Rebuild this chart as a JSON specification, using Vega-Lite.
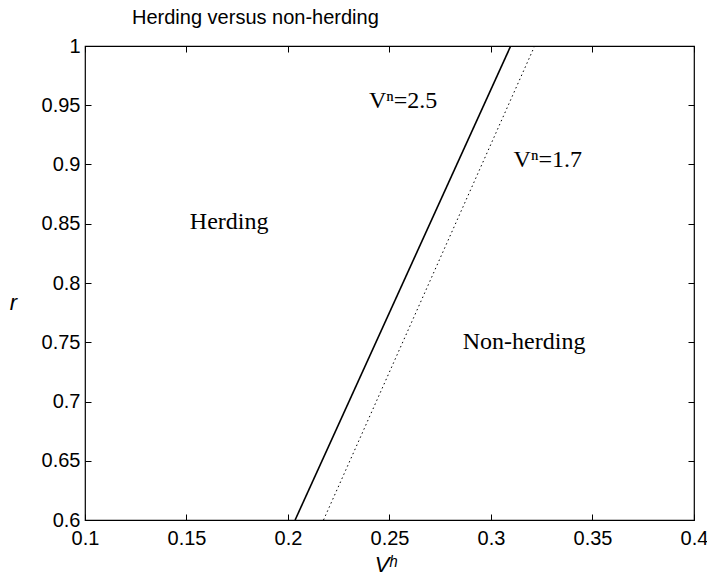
{
  "$schema": "https://vega.github.io/schema/vega-lite/v6.json",
  "width": 609,
  "height": 474,
  "autosize": "none",
  "padding": {"left": 85, "top": 46, "right": 13, "bottom": 59},
  "background": "white",
  "config": {
    "view": {"stroke": "black", "strokeWidth": 1.2},
    "font": "Liberation Sans",
    "axis": {"grid": false, "domain": false, "labelFont": "Liberation Sans", "labelFontSize": 20, "labelColor": "black", "tickColor": "black", "titleColor": "black", "format": "~g"}
  },
  "title": {
    "text": "Herding versus non-herding",
    "anchor": "start",
    "frame": "group",
    "dx": 47,
    "offset": 8,
    "font": "Liberation Sans",
    "fontSize": 20,
    "fontWeight": "normal",
    "color": "black"
  },
  "datasets": {
    "lines": [
      {"series": "2.5", "v": 0.2035, "r": 0.6},
      {"series": "2.5", "v": 0.3097, "r": 1.0},
      {"series": "1.7", "v": 0.2175, "r": 0.6},
      {"series": "1.7", "v": 0.3215, "r": 1.0}
    ],
    "labels": [
      {"text": "Vⁿ=2.5", "v": 0.2567, "r": 0.954},
      {"text": "Vⁿ=1.7", "v": 0.328, "r": 0.904},
      {"text": "Herding", "v": 0.171, "r": 0.8515},
      {"text": "Non-herding", "v": 0.3163, "r": 0.75}
    ]
  },
  "layer": [
    {
      "data": {"name": "lines"},
      "transform": [{"filter": "datum.series == '2.5'"}],
      "mark": {"type": "line", "color": "black", "strokeWidth": 1.6, "clip": true},
      "encoding": {
        "x": {"field": "v", "type": "quantitative", "scale": {"domain": [0.1, 0.4], "nice": false, "zero": false},
          "axis": {"values": [0.1, 0.15, 0.2, 0.25, 0.3, 0.35, 0.4], "tickSize": -6, "labelPadding": 14, "labelFlush": false,
            "title": "Vʰ", "titleFont": "Liberation Sans", "titleFontStyle": "italic", "titleFontWeight": "normal", "titleFontSize": 22, "titleX": 300, "titleY": 44, "titleBaseline": "middle"}},
        "y": {"field": "r", "type": "quantitative", "scale": {"domain": [0.6, 1.0], "nice": false, "zero": false},
          "axis": {"values": [0.6, 0.65, 0.7, 0.75, 0.8, 0.85, 0.9, 0.95, 1.0], "tickSize": -6, "labelPadding": 11, "labelFlush": false,
            "title": "r", "titleFont": "Liberation Sans", "titleFontStyle": "italic", "titleFontWeight": "normal", "titleFontSize": 22, "titleAngle": 0, "titleX": -72, "titleY": 256, "titleAlign": "center", "titleBaseline": "middle"}}
      }
    },
    {
      "data": {"name": "lines"},
      "transform": [{"filter": "datum.series == '1.7'"}],
      "mark": {"type": "line", "color": "black", "strokeWidth": 1, "strokeDash": [1.5, 3], "clip": true},
      "encoding": {
        "x": {"field": "v", "type": "quantitative", "axis": {"orient": "top", "values": [0.1, 0.15, 0.2, 0.25, 0.3, 0.35, 0.4], "tickSize": -6, "labels": false, "title": null}},
        "y": {"field": "r", "type": "quantitative", "axis": {"orient": "right", "values": [0.6, 0.65, 0.7, 0.75, 0.8, 0.85, 0.9, 0.95, 1.0], "tickSize": -6, "labels": false, "title": null}}
      }
    },
    {
      "data": {"name": "labels"},
      "mark": {"type": "text", "font": "Liberation Serif", "fontSize": 24, "color": "black", "align": "center", "baseline": "middle"},
      "encoding": {
        "x": {"field": "v", "type": "quantitative", "axis": null},
        "y": {"field": "r", "type": "quantitative", "axis": null},
        "text": {"field": "text"}
      }
    }
  ],
  "resolve": {"axis": {"x": "independent", "y": "independent"}}
}
